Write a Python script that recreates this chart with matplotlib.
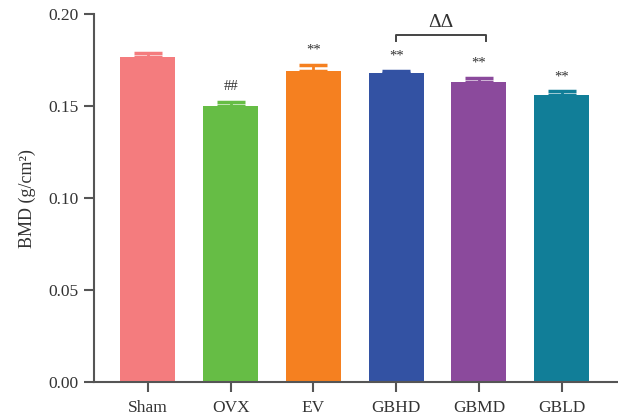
import numpy as np
import matplotlib.pyplot as plt

groups = ['Sham', 'OVX', 'EV', 'GBHD', 'GBMD', 'GBLD']
bmd = [0.1765, 0.150, 0.169, 0.168, 0.163, 0.156]
err = [0.0025, 0.0025, 0.0035, 0.001, 0.0025, 0.002]
marks = ['', '##', '**', '**', '**', '**']
colors = ['#F47C7E', '#66BD45', '#F58020', '#3352A3', '#8B4A9C', '#117E98']

plt.rcParams['font.family'] = 'Liberation Serif'
axis_col = '#555555'

fig = plt.figure(figsize=(6.18, 4.17), dpi=100)
ax = fig.add_axes([0.152, 0.084, 0.848, 0.882])

x = np.arange(len(groups))
ax.bar(x, bmd, width=0.665, color=colors, zorder=2)
for i in range(len(groups)):
    ax.errorbar(x[i], bmd[i], yerr=[[0], [err[i]]], fmt='none',
                ecolor=colors[i], elinewidth=2, capsize=10, capthick=2.5, zorder=1)
    if marks[i]:
        ax.text(x[i], bmd[i] + err[i] + 0.0045, marks[i], ha='center', va='bottom',
                fontsize=10.5, color='#333333')

# bracket between GBHD and GBMD
yb = 0.1885
ax.plot([3, 3, 4.08, 4.08], [yb - 0.003, yb, yb, yb - 0.003], color='#444444', lw=1.4,
        clip_on=False)
ax.text(3.54, yb + 0.0025, 'ΔΔ', ha='center', va='bottom', fontsize=14, color='#333333')

ax.set_xlim(-0.653, 5.68)
ax.set_ylim(0, 0.20)
ax.set_yticks([0, 0.05, 0.10, 0.15, 0.20])
ax.set_yticklabels(['0.00', '0.05', '0.10', '0.15', '0.20'])
ax.set_xticks(x)
ax.set_xticklabels(groups)
ax.set_ylabel('BMD (g/cm²)', fontsize=13, color='#333333', labelpad=9)

for s in ['top', 'right']:
    ax.spines[s].set_visible(False)
for s in ['left', 'bottom']:
    ax.spines[s].set_color(axis_col)
    ax.spines[s].set_linewidth(1.5)
ax.tick_params(axis='y', length=7, width=1.5, color=axis_col, labelsize=12.5,
               labelcolor='#333333', pad=4)
ax.tick_params(axis='x', length=7, width=1.5, color=axis_col, labelsize=12.5,
               labelcolor='#333333', pad=6)

fig.savefig('out.png', dpi=100)
